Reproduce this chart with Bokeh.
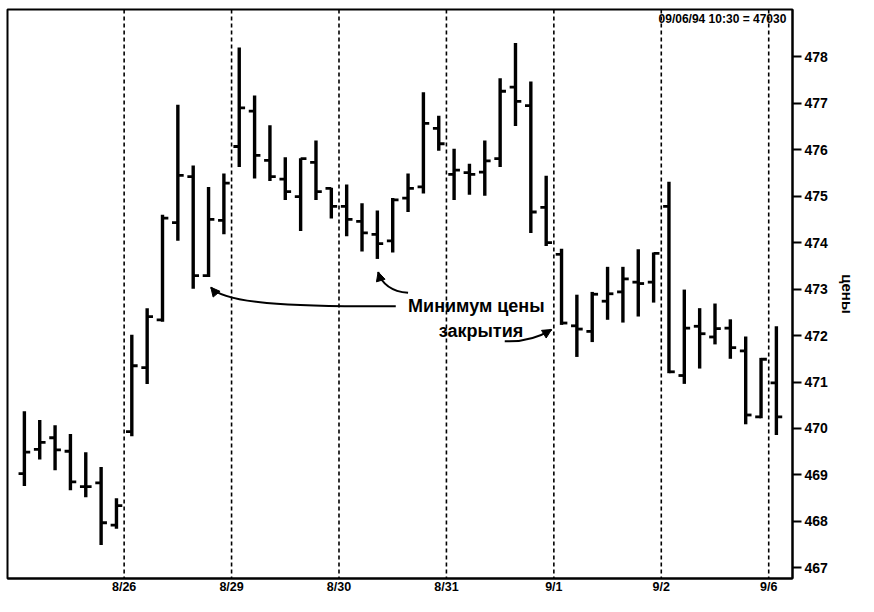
import numpy as np
from bokeh.plotting import figure
from bokeh.models import Span, FixedTicker, Label, Arrow, NormalHead, ColumnDataSource
from bokeh.embed import file_html
from bokeh.resources import INLINE

# ---- data (hourly bars) ----
days = ["8/25", "8/26", "8/29", "8/30", "8/31", "9/1", "9/2", "9/6"]
bars_per_day = [7, 7, 7, 7, 7, 7, 7, 1]

opens = [469.03, 469.55, 469.80, 469.51, 468.75, 468.83, 467.92,
         469.93, 471.31, 472.34, 474.43, 475.42, 473.29, 474.48,
         476.07, 476.83, 475.77, 475.37, 474.99, 475.73, 475.17,
         474.78, 474.46, 474.18, 474.04, 474.96, 475.20, 476.46,
         475.47, 475.51, 475.52, 475.81, 477.35, 476.95, 474.76,
         473.75, 472.21, 472.09, 472.74, 472.94, 473.15, 473.15,
         474.78, 471.14, 472.20, 471.97, 472.16, 471.67, 470.25,
         470.98]
highs = [470.37, 470.18, 470.07, 469.88, 469.49, 469.17, 468.50,
         472.02, 472.59, 474.60, 476.97, 475.66, 475.20, 475.49,
         478.20, 477.17, 476.53, 475.84, 475.82, 476.20, 475.18,
         475.25, 474.85, 474.69, 474.96, 475.49, 477.24, 476.73,
         476.02, 475.70, 476.20, 477.54, 478.30, 477.47, 475.44,
         473.87, 472.88, 472.94, 473.48, 473.48, 473.86, 473.79,
         475.31, 472.99, 472.59, 472.69, 472.35, 471.98, 471.52,
         472.20]
lows = [468.76, 469.33, 469.10, 468.67, 468.52, 467.49, 467.84,
        469.83, 470.96, 472.30, 474.04, 473.01, 473.26, 474.18,
        475.63, 475.38, 475.33, 474.92, 474.25, 474.92, 474.52,
        474.14, 473.81, 473.65, 473.79, 474.66, 475.06, 475.98,
        474.92, 475.03, 475.01, 475.63, 476.51, 474.21, 473.93,
        472.23, 471.54, 471.86, 472.34, 472.28, 472.41, 472.71,
        471.19, 470.96, 471.29, 471.81, 471.50, 470.09, 470.22,
        469.86]
closes = [469.49, 469.70, 469.54, 468.85, 468.75, 467.97, 468.34,
          471.35, 472.41, 474.53, 475.45, 473.29, 474.50, 475.28,
          476.90, 475.88, 475.42, 475.10, 475.81, 475.10, 474.78,
          474.50, 474.21, 473.98, 474.92, 475.17, 476.57, 476.13,
          475.56, 475.47, 475.76, 477.26, 477.04, 474.66, 474.00,
          472.27, 472.14, 472.89, 472.90, 473.22, 473.12, 473.77,
          471.22, 472.16, 472.04, 472.15, 471.74, 470.29, 471.49,
          470.25]
y_ticks = [467, 468, 469, 470, 471, 472, 473, 474, 475, 476, 477, 478]
header_text = "09/06/94 10:30 = 47030"
note_line1 = "Минимум цены"
note_line2 = "закрытия"
y_label = "цены"

n = len(closes)
idx = np.arange(n)
tick_len = 0.38
src = ColumnDataSource(dict(
    x=idx, xl=idx - tick_len, xr=idx + tick_len,
    o=opens, h=highs, l=lows, c=closes))

bounds = list(np.cumsum(bars_per_day)[:-1] - 0.5)
Y0, Y1 = 466.77, 479.02

p = figure(width=858, height=596,
           x_range=(-1.1, n + 0.05), y_range=(Y0, Y1),
           output_backend="svg", toolbar_location=None,
           y_axis_location="right",
           min_border_left=7, min_border_top=9,
           min_border_right=0, min_border_bottom=0,
           background_fill_color="white", border_fill_color="white")
p.outline_line_color = "black"
p.outline_line_width = 2
p.xgrid.visible = False
p.ygrid.visible = False

FONT = "Liberation Sans"

# day separators
for b in bounds:
    p.add_layout(Span(location=b, dimension="height", line_color="black",
                      line_width=1.6, line_dash="4 3"))

# OHLC bars
p.segment(x0="x", y0="l", x1="x", y1="h", source=src, line_color="black", line_width=3.4)
p.segment(x0="xl", y0="o", x1="x", y1="o", source=src, line_color="black", line_width=2.8)
p.segment(x0="x", y0="c", x1="xr", y1="c", source=src, line_color="black", line_width=2.8)

# day axis
xa = p.xaxis[0]
xa.ticker = FixedTicker(ticks=bounds)
xa.major_label_overrides = {float(b): d for b, d in zip(bounds, days[1:])}
xa.major_tick_in = 0
xa.major_tick_out = 0
xa.minor_tick_in = 0
xa.minor_tick_out = 0
xa.major_label_standoff = 1
xa.axis_line_width = 2
xa.major_label_text_font = FONT
xa.major_label_text_font_style = "bold"
xa.major_label_text_font_size = "12.5px"
xa.major_label_text_color = "black"

# price axis on the right
ya = p.yaxis[0]
ya.ticker = FixedTicker(ticks=y_ticks)
ya.major_tick_in = 0
ya.major_tick_out = 9
ya.major_tick_line_width = 2
ya.minor_tick_in = 0
ya.minor_tick_out = 0
ya.major_label_standoff = 3
ya.axis_line_width = 2
ya.major_label_text_font = FONT
ya.major_label_text_font_style = "bold"
ya.major_label_text_font_size = "14px"
ya.major_label_text_color = "black"
ya.axis_label = y_label
ya.axis_label_text_font = FONT
ya.axis_label_text_font_style = "bold"
ya.axis_label_text_font_size = "15px"
ya.axis_label_text_color = "black"
ya.axis_label_standoff = 8

# header
p.add_layout(Label(x=n - 0.35, y=478.81, text=header_text, text_align="right",
                   text_baseline="middle", text_font=FONT, text_font_style="bold",
                   text_font_size="12px", text_color="black"))

# annotation text
p.add_layout(Label(x=29.45, y=472.63, text=note_line1, text_align="center",
                   text_baseline="middle", text_font=FONT, text_font_style="bold",
                   text_font_size="18px", text_color="black"))
p.add_layout(Label(x=29.75, y=472.10, text=note_line2, text_align="center",
                   text_baseline="middle", text_font=FONT, text_font_style="bold",
                   text_font_size="18px", text_color="black"))

# curved arrows toward the closing minima
c11 = closes[11]
l23 = lows[23]
c35 = closes[35]
arrows = [
    (24.2, 472.63, 17.0, 472.62, 13.0, 472.70, 12.15, c11 - 0.25),
    (25.0, 472.92, 24.0, 472.95, 23.3, 473.10, 23.05, l23 - 0.28),
    (31.3, 471.88, 32.5, 471.86, 33.6, 471.98, 34.35, c35 - 0.14),
]
for (x0, y0, cx0, cy0, cx1, cy1, x1, y1) in arrows:
    p.bezier(x0=[x0], y0=[y0], cx0=[cx0], cy0=[cy0], cx1=[cx1], cy1=[cy1],
             x1=[x1], y1=[y1], line_color="black", line_width=2)
    dx, dy = x1 - cx1, y1 - cy1
    p.add_layout(Arrow(end=NormalHead(size=9, fill_color="black", line_color="black"),
                       x_start=x1 - dx * 0.05, y_start=y1 - dy * 0.05,
                       x_end=x1, y_end=y1, line_color="black", line_width=2))

open("out.html", "w").write(file_html(p, INLINE))
